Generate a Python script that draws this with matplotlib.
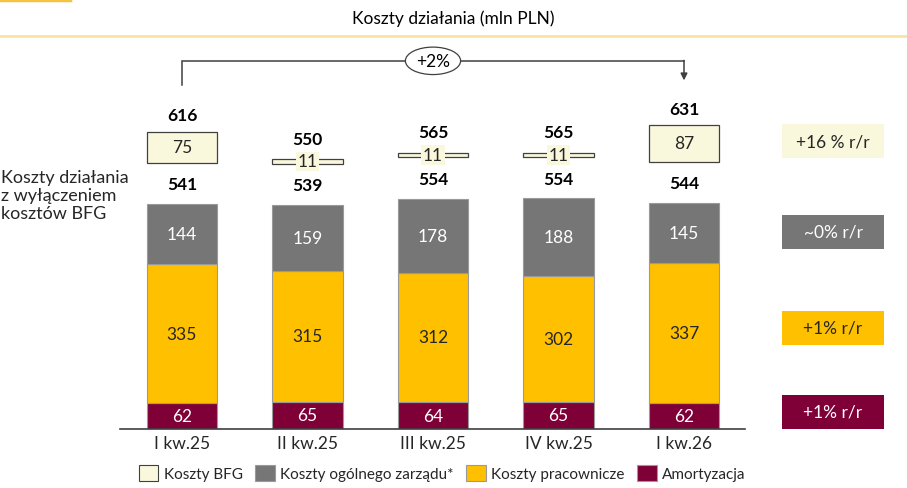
import matplotlib
matplotlib.use('Agg')
import matplotlib.pyplot as plt
from matplotlib.patches import Rectangle, Ellipse, Patch

plt.rcParams['font.family'] = ['Lato', 'DejaVu Sans']

# dane (mln PLN)
quarters = ['I kw.25', 'II kw.25', 'III kw.25', 'IV kw.25', 'I kw.26']
amort = [62, 65, 64, 65, 62]
pracownicze = [335, 315, 312, 302, 337]
ogolne = [144, 159, 178, 188, 145]
bfg = [75, 11, 11, 11, 87]
total_ex_bfg = [541, 539, 554, 554, 544]
total = [616, 550, 565, 565, 631]
yoy_labels = ['+16 % r/r', '~0% r/r', '+1% r/r', '+1% r/r']
change_label = '+2%'

c_bfg = '#faf8dc'
c_ogolne = '#767676'
c_prac = '#ffc000'
c_amort = '#7f0037'
c_dark = '#262626'

W, H = 907, 489
fig = plt.figure(figsize=(W / 100, H / 100), dpi=100)

# main axes: baseline at y=430px, 0.416 px per unit, 125.5 px per bar step
scale = 0.416
y_top = 950
ax_h = y_top * scale
ax = fig.add_axes([120 / W, (H - 430) / H, 625 / W, ax_h / H])
ax.set_xlim(-0.494, 4.486)
ax.set_ylim(0, y_top)
for s in ['top', 'right', 'left']:
    ax.spines[s].set_visible(False)
ax.spines['bottom'].set_color('#404040')
ax.spines['bottom'].set_linewidth(1.2)
ax.set_yticks([])

x = list(range(len(quarters)))
bw = 0.558
edge = dict(edgecolor='#9a9a9a', linewidth=0.8)
ax.bar(x, amort, bw, color=c_amort, **edge)
bottom2 = amort
ax.bar(x, pracownicze, bw, bottom=bottom2, color=c_prac, **edge)
bottom3 = [a + p for a, p in zip(amort, pracownicze)]
ax.bar(x, ogolne, bw, bottom=bottom3, color=c_ogolne, **edge)

gap = 99
bfg_bottom = [t + gap for t in total_ex_bfg]
ax.bar(x, bfg, bw, bottom=bfg_bottom, color=c_bfg, edgecolor='#404040', linewidth=0.9)

fs = 12.5
for i in x:
    ax.text(i, amort[i] / 2, str(amort[i]), ha='center', va='center', color='white', fontsize=fs)
    ax.text(i, bottom2[i] + pracownicze[i] / 2, str(pracownicze[i]), ha='center', va='center',
            color=c_dark, fontsize=fs)
    ax.text(i, bottom3[i] + ogolne[i] / 2, str(ogolne[i]), ha='center', va='center',
            color='white', fontsize=fs)
    ax.text(i, total_ex_bfg[i] + 48, str(total_ex_bfg[i]), ha='center', va='center',
            color='black', fontsize=fs, fontweight='bold')
    mid = bfg_bottom[i] + bfg[i] / 2
    if bfg[i] < 30:
        ax.text(i, mid, str(bfg[i]), ha='center', va='center', color=c_dark, fontsize=fs,
                bbox=dict(boxstyle='square,pad=0.1', facecolor=c_bfg, edgecolor='none'))
    else:
        ax.text(i, mid, str(bfg[i]), ha='center', va='center', color=c_dark, fontsize=fs)
    ax.text(i, bfg_bottom[i] + max(bfg[i], 20) + 40, str(total[i]), ha='center', va='center',
            color='black', fontsize=fs, fontweight='bold')

ax.set_xticks(x)
ax.set_xticklabels(quarters, fontsize=12.5, color=c_dark)
ax.tick_params(axis='x', length=0, pad=4)

# bracket with change label
y_br = 885
ax.plot([0, 0, 4], [827, y_br, y_br], color='#404040', lw=1.1, solid_joinstyle='miter')
ax.annotate('', xy=(4, 838), xytext=(4, y_br + 1),
            arrowprops=dict(arrowstyle='-|>', color='#404040', lw=1.1,
                            mutation_scale=10, shrinkA=0, shrinkB=0))
ax.add_patch(Ellipse((2, y_br), 0.44, 66, facecolor='white', edgecolor='#404040', lw=0.9,
                     zorder=3))
ax.text(2, y_br, change_label, ha='center', va='center', fontsize=12.5, color='black', zorder=4)

# overlay in pixel coordinates for non-data decoration
ov = fig.add_axes([0, 0, 1, 1])
ov.set_xlim(0, W)
ov.set_ylim(H, 0)
ov.axis('off')
ov.patch.set_alpha(0)

ov.plot([0, W], [37, 37], color='#fbe3a0', lw=2)
ov.plot([0, 70], [1, 1], color='#f5c242', lw=2.5)
ov.text(453, 19, 'Koszty działania (mln PLN)', ha='center', va='center', fontsize=12.5,
        color='black', family=['Liberation Sans Narrow', 'DejaVu Sans Condensed', 'Lato'])

ov.text(1, 196, 'Koszty działania\nz wyłączeniem\nkosztów BFG', ha='left', va='center',
        fontsize=13, color=c_dark, linespacing=1.12)

box_fc = [c_bfg, c_ogolne, c_prac, c_amort]
box_tc = [c_dark, 'white', c_dark, 'white']
box_y = [125, 216, 312, 396]
for lab, fc, tc, by in zip(yoy_labels, box_fc, box_tc, box_y):
    ov.add_patch(Rectangle((782, by), 102, 34, facecolor=fc, edgecolor='none'))
    ov.text(833, by + 17, lab, ha='center', va='center', fontsize=12.5, color=tc)

handles = [Patch(facecolor=c_bfg, edgecolor='#404040', lw=0.8, label='Koszty BFG'),
           Patch(facecolor=c_ogolne, edgecolor='#9a9a9a', lw=0.8, label='Koszty ogólnego zarządu*'),
           Patch(facecolor=c_prac, edgecolor='#9a9a9a', lw=0.8, label='Koszty pracownicze'),
           Patch(facecolor=c_amort, edgecolor='#9a9a9a', lw=0.8, label='Amortyzacja')]
fig.legend(handles=handles, loc='center', bbox_to_anchor=(442 / W, 1 - 474 / H), ncol=4,
           frameon=False, fontsize=11, handlelength=1.3, handleheight=1.3,
           handletextpad=0.35, columnspacing=0.8, labelcolor=c_dark)

fig.savefig('out.png', dpi=100)
